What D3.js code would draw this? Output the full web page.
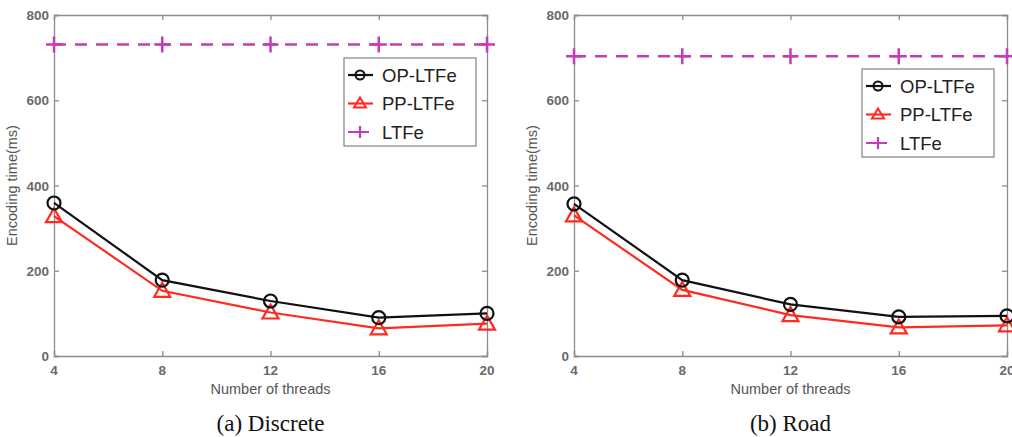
<!DOCTYPE html>
<html>
<head>
<meta charset="utf-8">
<script src="https://cdn.jsdelivr.net/npm/d3@7"></script>
<style>
  body { margin: 0; background: #fff; }
  svg { display: block; }
</style>
</head>
<body>
<svg id="drawing_region"></svg>
<script>
// thread counts on the x axis
const threads = [4, 8, 12, 16, 20];
const y_ticks = [0, 200, 400, 600, 800];
const series_names = ['OP-LTFe', 'PP-LTFe', 'LTFe'];

// (a) Discrete
const discrete_op = [359, 178, 129, 90, 100];
const discrete_pp = [328, 153, 102, 65, 76];
const discrete_ltfe = [731, 731, 731, 731, 731];

// (b) Road
const road_op = [357, 178, 121, 92, 94];
const road_pp = [330, 155, 96, 67, 72];
const road_ltfe = [703, 703, 703, 703, 703];

const svg = d3.select('#drawing_region')
    .attr('width', 1012)
    .attr('height', 437);

const axis_color = '#8c8c8c';
const label_color = '#555';
const colors = { op: '#111', pp: '#ff2a20', ltfe: '#c43cbc' };
const sans = 'Liberation Sans, Arial, sans-serif';

function drawPanel(left, op, pp, ltfe, caption, legend_pos) {
    const width = 433, top = 15, bottom = 356;

    const x = d3.scaleLinear().domain([4, 20]).range([left, left + width]);
    const y = d3.scaleLinear().domain([0, 800]).range([bottom, top]);

    const g = svg.append('g');

    // ticks (inward) on all four sides
    const ax_b = d3.axisBottom(x).tickValues(threads).tickSize(-5).tickFormat('');
    const ax_t = d3.axisTop(x).tickValues(threads).tickSize(-5).tickFormat('');
    const ax_l = d3.axisLeft(y).tickValues(y_ticks).tickSize(-5).tickFormat('');
    const ax_r = d3.axisRight(y).tickValues(y_ticks).tickSize(-5).tickFormat('');
    [[ax_b, `translate(0,${bottom})`], [ax_t, `translate(0,${top})`],
     [ax_l, `translate(${left},0)`], [ax_r, `translate(${left + width},0)`]]
        .forEach(([ax, tr]) => {
            const a = g.append('g').attr('transform', tr).call(ax);
            a.selectAll('path, line').attr('stroke', axis_color).attr('stroke-width', 1.3);
        });

    // tick labels
    g.selectAll('.xl').data(threads).enter().append('text')
        .attr('x', d => x(d)).attr('y', bottom + 19)
        .attr('text-anchor', 'middle')
        .style('font-family', sans)
        .style('font-size', '13.5px').style('font-weight', 'bold')
        .attr('fill', '#6a6a6a')
        .text(d => d);
    g.selectAll('.yl').data(y_ticks).enter().append('text')
        .attr('x', left - 5).attr('y', d => y(d) + 5)
        .attr('text-anchor', 'end')
        .style('font-family', sans)
        .style('font-size', '13.5px').style('font-weight', 'bold')
        .attr('fill', '#6a6a6a')
        .text(d => d);

    // axis titles
    g.append('text')
        .attr('x', left + width / 2).attr('y', bottom + 38)
        .attr('text-anchor', 'middle')
        .style('font-family', sans)
        .style('font-size', '14.5px')
        .attr('fill', label_color)
        .text('Number of threads');
    g.append('text')
        .attr('transform', `translate(${left - 37},${(top + bottom) / 2}) rotate(-90)`)
        .attr('text-anchor', 'middle')
        .style('font-family', sans)
        .style('font-size', '14.5px')
        .attr('fill', label_color)
        .text('Encoding time(ms)');

    // caption
    g.append('text')
        .attr('x', left + width / 2).attr('y', 431)
        .attr('text-anchor', 'middle')
        .style('font-family', 'Liberation Serif, Times New Roman, serif')
        .style('font-size', '23px')
        .attr('fill', '#111')
        .text(caption);

    const line = d3.line().x((d, i) => x(threads[i])).y(d => y(d));

    // LTFe dashed
    g.append('path').datum(ltfe)
        .attr('d', line).attr('fill', 'none')
        .attr('stroke', colors.ltfe).attr('stroke-width', 2.5)
        .attr('stroke-dasharray', '12,9');
    g.selectAll('.plus').data(ltfe).enter().append('path')
        .attr('transform', (d, i) => `translate(${x(threads[i])},${y(d)})`)
        .attr('d', 'M-8,0H8M0,-8V8')
        .attr('stroke', colors.ltfe).attr('stroke-width', 2.5);

    // PP-LTFe
    g.append('path').datum(pp)
        .attr('d', line).attr('fill', 'none')
        .attr('stroke', colors.pp).attr('stroke-width', 2.2);
    g.selectAll('.tri').data(pp).enter().append('path')
        .attr('transform', (d, i) => `translate(${x(threads[i])},${y(d)})`)
        .attr('d', 'M0,-8L8,6L-8,6Z')
        .attr('fill', 'none')
        .attr('stroke', colors.pp).attr('stroke-width', 2.2);

    // OP-LTFe
    g.append('path').datum(op)
        .attr('d', line).attr('fill', 'none')
        .attr('stroke', colors.op).attr('stroke-width', 2.2);
    g.selectAll('.circ').data(op).enter().append('circle')
        .attr('cx', (d, i) => x(threads[i])).attr('cy', d => y(d))
        .attr('r', 6.5)
        .attr('fill', 'none')
        .attr('stroke', colors.op).attr('stroke-width', 2.2);

    // legend
    const lg = g.append('g').attr('transform', `translate(${legend_pos[0]},${legend_pos[1]})`);
    lg.append('rect')
        .attr('width', 132).attr('height', 88)
        .attr('fill', '#fff')
        .attr('stroke', axis_color).attr('stroke-width', 1.3);
    const keys = ['op', 'pp', 'ltfe'];
    keys.forEach((k, i) => {
        const cy = 17 + i * 28.5;
        const row = lg.append('g').attr('transform', `translate(0,${cy})`);
        row.append('line')
            .attr('x1', 4).attr('x2', 29).attr('y1', 0).attr('y2', 0)
            .attr('stroke', colors[k]).attr('stroke-width', 2.2)
            .attr('stroke-dasharray', k === 'ltfe' ? '8,5' : null);
        if (k === 'op') {
            row.append('circle').attr('cx', 16).attr('cy', 0).attr('r', 4.5)
                .attr('fill', 'none').attr('stroke', colors.op).attr('stroke-width', 2);
        } else if (k === 'pp') {
            row.append('path').attr('transform', 'translate(16,0)')
                .attr('d', 'M0,-6L6,4L-6,4Z')
                .attr('fill', 'none').attr('stroke', colors.pp).attr('stroke-width', 2);
        } else {
            row.append('path').attr('transform', 'translate(16,0)')
                .attr('d', 'M-6,0H6M0,-6V6')
                .attr('stroke', colors.ltfe).attr('stroke-width', 2.2);
        }
        row.append('text')
            .attr('x', 38).attr('y', 6.5)
            .style('font-family', sans)
            .style('font-size', '18.5px')
            .attr('fill', '#222')
            .text(series_names[i]);
    });
}

drawPanel(54, discrete_op, discrete_pp, discrete_ltfe, '(a) Discrete', [344, 58]);
drawPanel(574, road_op, road_pp, road_ltfe, '(b) Road', [862, 69]);
</script>
</body>
</html>
